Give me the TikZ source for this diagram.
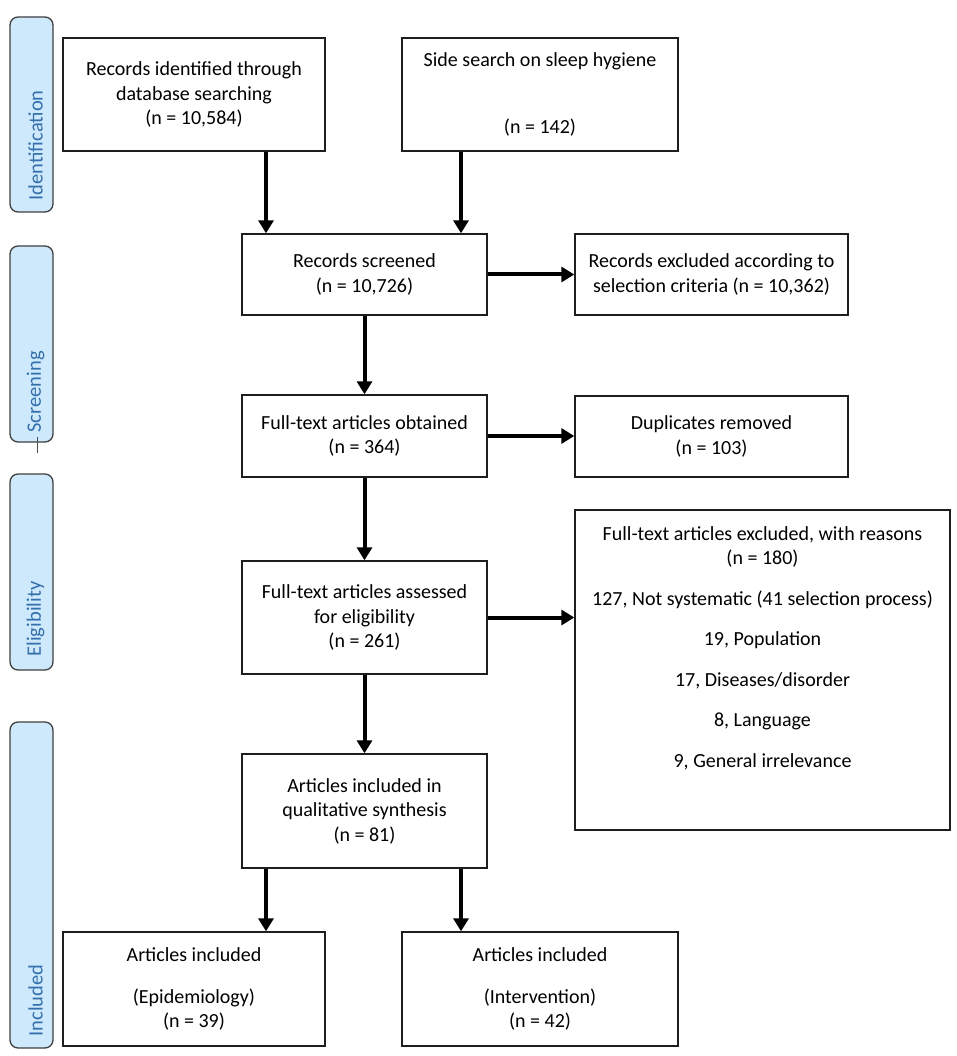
\documentclass[tikz,border=0pt]{standalone}
\usepackage{fontspec}
\setmainfont{Carlito}
\usetikzlibrary{arrows.meta}
\definecolor{barfill}{RGB}{206,232,252}
\definecolor{bartext}{RGB}{52,112,172}
\definecolor{edge}{RGB}{30,30,30}
\tikzset{
  box/.style={draw=edge, line width=1.4pt, rectangle, inner sep=0pt, align=center,
    font=\fontsize{20}{24.5}\selectfont},
  plain/.style={inner sep=0pt, align=center, font=\fontsize{20}{24.5}\selectfont},
  bar/.style={draw=edge!85, line width=1.3pt, fill=barfill, rounded corners=8pt,
    inner sep=0pt, minimum width=43pt},
  barlabel/.style={rotate=90, anchor=west, inner sep=0pt, text=bartext,
    font=\fontsize{20.5}{24}\selectfont},
  arr/.style={line width=4pt, -{Triangle[length=13pt,width=15pt]}},
}
\begin{document}
\begin{tikzpicture}[x=1pt,y=-1pt]
\useasboundingbox (0,0) rectangle (957,1056);
% side bars
\node[bar, minimum height=195pt] (idb) at (31.5,114.5) {};
\node[barlabel] (idt) at ([xshift=4pt,yshift=12pt]idb.south) {Identification};
\node[bar, minimum height=196pt] (scb) at (31.5,344) {};
\node[barlabel] (sct) at ([xshift=4pt,yshift=10pt]scb.south) {Screening};
\draw[edge!80, line width=1.3pt] ([xshift=6pt,yshift=-10pt]scb.south) -- ([xshift=6pt,yshift=6pt]scb.south);
\node[bar, minimum height=196pt] (elb) at (31.5,572) {};
\node[barlabel] (elt) at ([xshift=4pt,yshift=14pt]elb.south) {Eligibility};
\node[bar, minimum height=326pt] (inb) at (31.5,885) {};
\node[barlabel] (int) at ([xshift=4pt,yshift=12pt]inb.south) {Included};
% boxes
\node[box, minimum width=262pt, minimum height=113pt] (b1) at (194,94.5)
  {Records identified through\\database searching\\(n = 10,584)};
\node[box, minimum width=276pt, minimum height=113pt] (b2) at (540,94.5)
  {Side search on sleep hygiene\\[42pt](n = 142)};
\node[box, minimum width=245pt, minimum height=81pt] (b3) at (364.5,274.5)
  {Records screened\\(n = 10,726)};
\node[box, minimum width=273pt, minimum height=81pt] (b4) at (711.5,274.5)
  {Records excluded according to\\selection criteria (n = 10,362)};
\node[box, minimum width=245pt, minimum height=82pt] (b5) at (364.5,436)
  {Full-text articles obtained\\(n = 364)};
\node[box, minimum width=273pt, minimum height=81pt] (b6) at (711.5,436.5)
  {Duplicates removed\\(n = 103)};
\node[box, minimum width=245pt, minimum height=113pt] (b7) at (364.5,617.5)
  {Full-text articles assessed\\for eligibility\\(n = 261)};
\node[box, minimum width=375pt, minimum height=320pt] (b8) at (762.5,670) {};
\node[plain, anchor=north] (b8t) at ([yshift=-17pt]b8.north)
  {Full-text articles excluded, with reasons\\(n = 180)\\[16pt]127, Not systematic (41 selection process)\\[16pt]19, Population\\[16pt]17, Diseases/disorder\\[16pt]8, Language\\[16pt]9, General irrelevance};
\node[box, minimum width=245pt, minimum height=114pt] (b9) at (364.5,811)
  {Articles included in\\qualitative synthesis\\(n = 81)};
\node[box, minimum width=262pt, minimum height=114pt] (b10) at (194,989)
  {Articles included\\[17pt](Epidemiology)\\(n = 39)};
\node[box, minimum width=276pt, minimum height=114pt] (b11) at (540,989)
  {Articles included\\[17pt](Intervention)\\(n = 42)};
% arrow columns
\coordinate (cl) at (266,0);
\coordinate (cr) at (461,0);
\draw[arr] (cl |- b1.south) -- (cl |- b3.north);
\draw[arr] (cr |- b2.south) -- (cr |- b3.north);
\draw[arr] (b3.east) -- (b3.east -| b4.west);
\draw[arr] (b3.south) -- (b5.north);
\draw[arr] (b5.east) -- (b5.east -| b6.west);
\draw[arr] (b5.south) -- (b7.north);
\draw[arr] (b7.east) -- (b7.east -| b8.west);
\draw[arr] (b7.south) -- (b9.north);
\draw[arr] (cl |- b9.south) -- (cl |- b10.north);
\draw[arr] (cr |- b9.south) -- (cr |- b11.north);
\end{tikzpicture}
\end{document}
